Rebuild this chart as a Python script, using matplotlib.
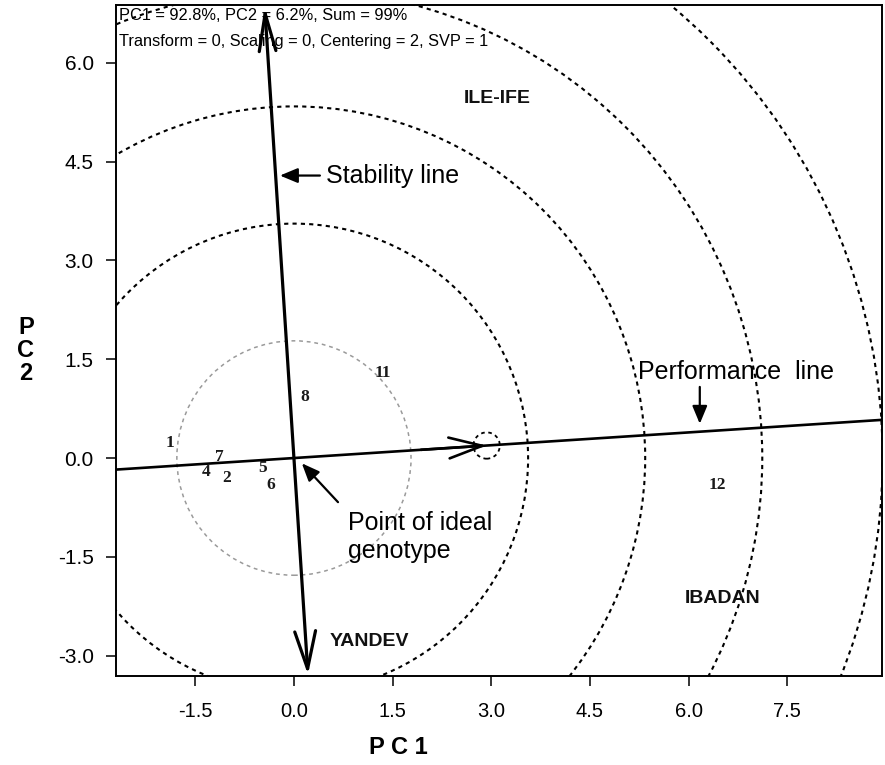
import matplotlib
matplotlib.use("Agg")
import matplotlib.pyplot as plt
from matplotlib.patches import Circle
from matplotlib import font_manager
import numpy as np

# ---------------- data ----------------
genotypes = ["1", "7", "4", "2", "5", "6", "8", "11", "12"]
geno_x = [-1.88, -1.14, -1.34, -1.02, -0.47, -0.35, 0.17, 1.35, 6.44]
geno_y = [0.23, 0.02, -0.21, -0.30, -0.15, -0.41, 0.93, 1.29, -0.41]

environments = ["ILE-IFE", "IBADAN", "YANDEV"]
env_x = [3.09, 6.52, 1.14]
env_y = [5.46, -2.13, -2.78]

aea_point = (2.93, 0.19)          # average environment point on the AEA
circle_radii = [1.78, 3.56, 5.34, 7.12, 8.95]
small_circle_r = 0.2

xticks = [-1.5, 0.0, 1.5, 3.0, 4.5, 6.0, 7.5]
yticks = [-3.0, -1.5, 0.0, 1.5, 3.0, 4.5, 6.0]
xlim = (-2.705, 8.94)
ylim = (-3.31, 6.88)

header1 = "PC1 = 92.8%, PC2 = 6.2%, Sum = 99%"
header2 = "Transform = 0, Scaling = 0, Centering = 2, SVP = 1"

# ---------------- fonts ----------------
names = {f.name for f in font_manager.fontManager.ttflist}
SANS = "Liberation Sans" if "Liberation Sans" in names else "DejaVu Sans"
NARROW = "Liberation Sans Narrow" if "Liberation Sans Narrow" in names else SANS
SERIF = "Liberation Serif" if "Liberation Serif" in names else "DejaVu Serif"

fig = plt.figure(figsize=(8.85, 7.65), dpi=100)
ax = fig.add_axes([116/885, 1-676/765, (882-116)/885, (676-5)/765])
ax.set_xlim(*xlim)
ax.set_ylim(*ylim)

for s in ax.spines.values():
    s.set_linewidth(1.4)
    s.set_color("black")

ax.set_xticks(xticks)
ax.set_yticks(yticks)
ax.set_xticklabels([f"{v:.1f}" for v in xticks], fontfamily=NARROW, fontsize=14.5)
ax.set_yticklabels([f"{v:.1f}" for v in yticks], fontfamily=SANS, fontsize=15)
ax.tick_params(axis="both", direction="out", length=7, width=1.1, color="black")
ax.tick_params(axis="x", pad=12)
ax.tick_params(axis="y", pad=9)

# concentric circles
for i, r in enumerate(circle_radii):
    if i == 0:
        c = Circle((0, 0), r, fill=False, ec="#9a9a9a", lw=1.1, ls=(0, (2.5, 2.5)))
    else:
        c = Circle((0, 0), r, fill=False, ec="black", lw=1.5, ls=(0, (2, 2)))
    ax.add_patch(c)
ax.add_patch(Circle(aea_point, small_circle_r, fill=False, ec="black", lw=1.3, ls=(0, (2, 2))))

# performance line (AEA abscissa)
ux, uy = aea_point
norm = np.hypot(ux, uy)
ux, uy = ux / norm, uy / norm
t = np.array([-3.0, 10.0])
ax.plot(t * ux, t * uy, color="black", lw=1.9, solid_capstyle="butt")
ax.annotate("", xy=aea_point, xytext=(aea_point[0] - 1.0 * ux, aea_point[1] - 1.0 * uy),
            arrowprops=dict(arrowstyle="->,head_length=0.8,head_width=0.25", lw=1.9,
                            color="black", mutation_scale=30, shrinkA=0, shrinkB=0))

# stability line (AEA ordinate) - perpendicular, arrows at both ends
vx, vy = -uy, ux
top_t = ylim[1] / vy - 0.02
bot_t = ylim[0] / vy + 0.02
ax.annotate("", xy=(top_t * vx, top_t * vy), xytext=(0, 0),
            arrowprops=dict(arrowstyle="->,head_length=0.9,head_width=0.2", lw=2.3,
                            color="black", mutation_scale=30, shrinkA=0, shrinkB=0))
ax.annotate("", xy=(bot_t * vx, bot_t * vy), xytext=(0, 0),
            arrowprops=dict(arrowstyle="->,head_length=0.9,head_width=0.25", lw=2.3,
                            color="black", mutation_scale=30, shrinkA=0, shrinkB=0))

# genotype labels
for lab, x, y in zip(genotypes, geno_x, geno_y):
    ax.text(x, y, lab, ha="center", va="center", fontfamily=SERIF, fontsize=12.5,
            fontweight="bold", color="#1a1a1a")

# environment labels
for lab, x, y in zip(environments, env_x, env_y):
    ax.text(x, y, lab, ha="center", va="center", fontfamily=SANS, fontsize=14,
            fontweight="bold", color="#111111")

# annotations
ann_kw = dict(arrowstyle="-|>,head_length=0.6,head_width=0.25", lw=1.6, color="black",
              mutation_scale=18, shrinkA=0, shrinkB=0)
ax.annotate("", xy=(-0.213, 4.29), xytext=(0.395, 4.29), arrowprops=ann_kw)
ax.text(0.486, 4.18, "Stability line", fontfamily=SANS, fontsize=18, va="baseline", ha="left")

ax.annotate("", xy=(6.17, 0.52), xytext=(6.17, 1.08), arrowprops=ann_kw)
ax.text(5.23, 1.20, "Performance  line", fontfamily=SANS, fontsize=18, va="baseline", ha="left")

ax.annotate("", xy=(0.12, -0.08), xytext=(0.67, -0.67), arrowprops=ann_kw)
ax.text(0.82, -1.094, "Point of ideal", fontfamily=SANS, fontsize=18, va="baseline", ha="left")
ax.text(0.82, -1.52, "genotype", fontfamily=SANS, fontsize=18, va="baseline", ha="left")

# header
fig.text(119/885, 1 - 20/765, header1, fontfamily=SANS, fontsize=11.8, va="baseline", ha="left")
fig.text(119/885, 1 - 46/765, header2, fontfamily=SANS, fontsize=11.8, va="baseline", ha="left")

# axis labels
fig.text(398/885, 1 - 748/765, "P C 1", fontfamily=SANS, fontsize=17, fontweight="bold",
         ha="center", va="center")
fig.text(26/885, 1 - 351/765, "P\nC\n2", fontfamily=SANS, fontsize=17, fontweight="bold",
         ha="center", va="center", linespacing=1.0)

fig.savefig("out.png", dpi=100)
